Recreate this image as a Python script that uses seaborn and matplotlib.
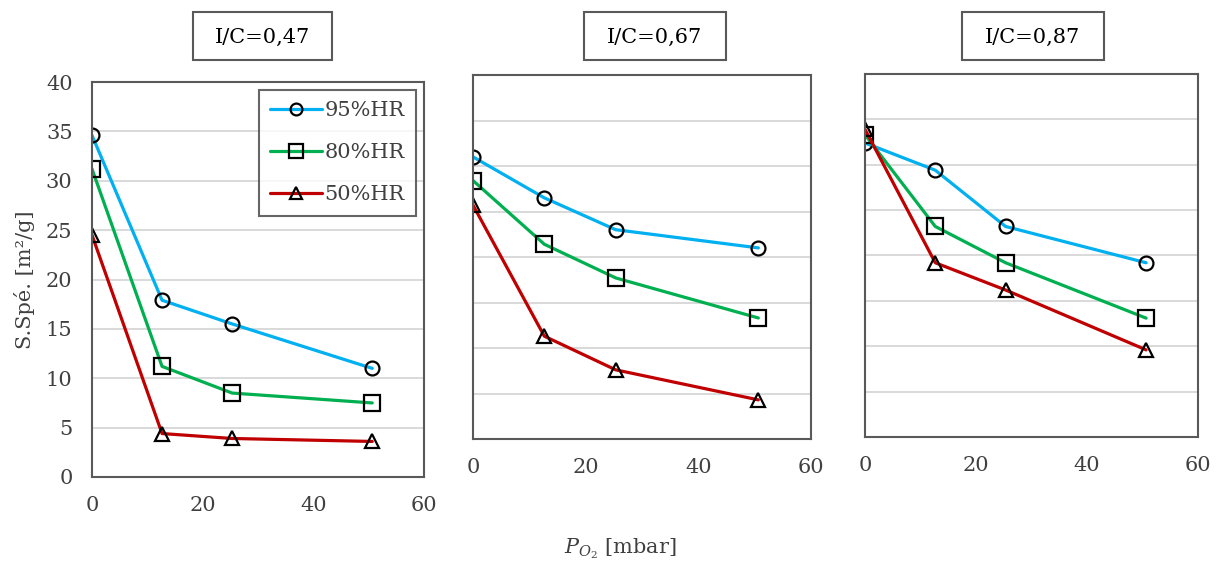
import numpy as np
import pandas as pd
import matplotlib
matplotlib.use("Agg")
import matplotlib.pyplot as plt
from matplotlib.patches import Rectangle
import seaborn as sns

# Data
p_o2 = [0, 12.66, 25.33, 50.65]
panels = ["I/C=0,47", "I/C=0,67", "I/C=0,87"]
series = ["95%HR", "80%HR", "50%HR"]

hr95_047 = [34.6, 17.9, 15.5, 11.0]
hr80_047 = [31.2, 11.2, 8.5, 7.5]
hr50_047 = [24.5, 4.4, 3.9, 3.6]

hr95_067 = [31.0, 26.5, 23.0, 21.0]
hr80_067 = [28.4, 21.4, 17.7, 13.3]
hr50_067 = [25.7, 11.3, 7.6, 4.3]

hr95_087 = [32.4, 29.4, 23.2, 19.2]
hr80_087 = [33.3, 23.2, 19.2, 13.1]
hr50_087 = [33.9, 19.2, 16.2, 9.6]

values = {
    panels[0]: [hr95_047, hr80_047, hr50_047],
    panels[1]: [hr95_067, hr80_067, hr50_067],
    panels[2]: [hr95_087, hr80_087, hr50_087],
}

rows = []
for panel in panels:
    for name, vals in zip(series, values[panel]):
        for x, y in zip(p_o2, vals):
            rows.append({"panel": panel, "serie": name, "P": x, "S": y})
df = pd.DataFrame(rows)

colors = {"95%HR": "#00B0F0", "80%HR": "#00B050", "50%HR": "#C00000"}
markers = {"95%HR": "o", "80%HR": "s", "50%HR": "^"}
msizes = {"95%HR": 10, "80%HR": 11.5, "50%HR": 10.5}

sns.set_style("white")
plt.rcParams["font.family"] = ["DejaVu Serif"]
plt.rcParams["mathtext.fontset"] = "custom"
plt.rcParams["mathtext.rm"] = "DejaVu Serif"
plt.rcParams["mathtext.it"] = "DejaVu Serif:italic"

W, H = 1219, 570
fig = plt.figure(figsize=(W / 100, H / 100), dpi=100)

# axes boxes in pixels: left, right, top, bottom
boxes = [(92, 424, 82, 477), (473, 811, 75, 439), (865, 1198, 74, 437)]
title_boxes = [(193, 332), (584, 726), (962, 1104)]
fs = 15
text_color = "#404040"

for i, panel in enumerate(panels):
    l, r, t, b = boxes[i]
    ax = fig.add_axes([l / W, 1 - b / H, (r - l) / W, (b - t) / H])
    sub = df[df["panel"] == panel]
    for name in series:
        sns.lineplot(data=sub[sub["serie"] == name], x="P", y="S", ax=ax,
                     color=colors[name], linewidth=2.3, marker=markers[name],
                     markersize=msizes[name], markerfacecolor="none",
                     markeredgecolor="black", markeredgewidth=1.6,
                     label=name, legend=False)
    ax.set_xlim(0, 60)
    ax.set_ylim(0, 40)
    ax.set_xticks([0, 20, 40, 60])
    ax.set_yticks(range(0, 45, 5))
    ax.yaxis.grid(True, color="#D9D9D9", linewidth=1.4)
    ax.set_axisbelow(True)
    for sp in ax.spines.values():
        sp.set_color("#595959")
        sp.set_linewidth(1.5)
    ax.tick_params(axis="both", length=0, labelsize=fs, labelcolor=text_color)
    ax.tick_params(axis="x", pad=14)
    ax.tick_params(axis="y", pad=14)
    ax.set_xlabel("")
    if i == 0:
        ax.set_ylabel("S.Spé. [m²/g]", fontsize=fs, color=text_color, labelpad=8)
        leg = ax.legend(handles=ax.lines[:3], labels=series, loc="upper right",
                        bbox_to_anchor=(0.976, 0.98), borderaxespad=0,
                        fontsize=fs, frameon=True, fancybox=False,
                        edgecolor="#404040", labelspacing=1.1,
                        handlelength=2.5, handletextpad=0.1, borderpad=0.55,
                        labelcolor=text_color, markerscale=0.85)
        leg.get_frame().set_linewidth(1.5)
    else:
        ax.set_ylabel("")
        ax.set_yticklabels([])

    # boxed panel title
    x0, x1 = title_boxes[i]
    fig.add_artist(Rectangle((x0 / W, 1 - 60 / H), (x1 - x0) / W, 48 / H,
                             transform=fig.transFigure, facecolor="white",
                             edgecolor="#595959", linewidth=1.5))
    fig.text((x0 + x1) / 2 / W, 1 - 37 / H, panel, ha="center", va="center",
             fontsize=fs, color="black")

fig.text(620 / W, 1 - 549 / H, r"$P_{O_2}$ [mbar]", ha="center", va="center",
         fontsize=fs, color=text_color)

plt.savefig("out.png", dpi=100)
